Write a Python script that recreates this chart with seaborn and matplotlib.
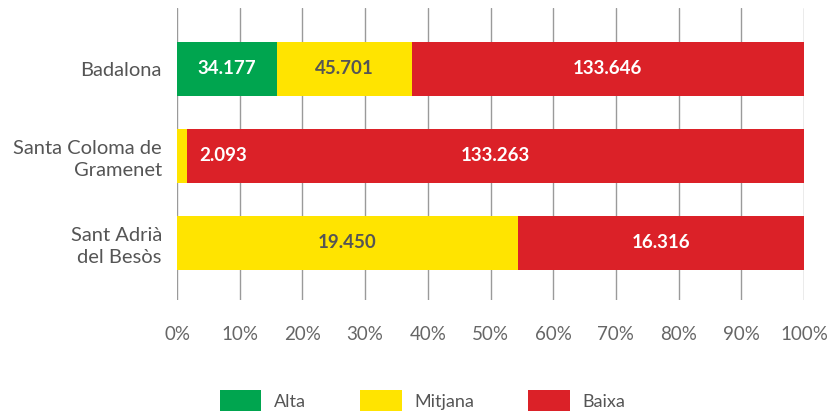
import matplotlib
matplotlib.use("Agg")
import matplotlib.pyplot as plt
import seaborn as sns
import pandas as pd
import numpy as np
from matplotlib.patches import Patch

municipis = ["Badalona", "Santa Coloma de\nGramenet", "Sant Adrià\ndel Besòs"]
alta = [34177, 0, 0]
mitjana = [45701, 2093, 19450]
baixa = [133646, 133263, 16316]
series = ["Alta", "Mitjana", "Baixa"]
colors = {"Alta": "#00a54f", "Mitjana": "#ffe400", "Baixa": "#db2128"}
label_colors = {"Alta": "white", "Mitjana": "#555555", "Baixa": "white"}
tick_labels = [f"{p}%" for p in range(0, 101, 10)]

sns.set_theme(style="white")
plt.rcParams["font.family"] = ["Lato", "DejaVu Sans"]

raw = pd.DataFrame({"municipi": municipis, "Alta": alta, "Mitjana": mitjana, "Baixa": baixa})
total = raw[series].sum(axis=1)
pct = raw[series].div(total, axis=0) * 100
cum = pct.cumsum(axis=1)

fig = plt.figure(figsize=(8.3, 4.16), dpi=100)
ax = fig.add_axes([0.2133, 0.279, 0.7554, 0.702])

# stacked bars: draw cumulative totals back to front
for s in reversed(series):
    d = pd.DataFrame({"municipi": municipis, "v": cum[s].values})
    sns.barplot(data=d, y="municipi", x="v", color=colors[s], orient="h",
                width=0.62, ax=ax, saturation=1, zorder=2, edgecolor="none")

# value labels
for i in range(len(municipis)):
    for s in series:
        v = raw.loc[i, s]
        if v == 0:
            continue
        start = cum.loc[i, s] - pct.loc[i, s]
        end = cum.loc[i, s]
        txt = f"{v:,}".replace(",", ".")
        if pct.loc[i, s] < 5:
            ax.text(end + 2.0, i, txt, ha="left", va="center", color="white",
                    fontsize=13.5, fontweight="bold", zorder=3)
        else:
            ax.text((start + end) / 2, i, txt, ha="center", va="center",
                    color=label_colors[s], fontsize=13.5, fontweight="bold", zorder=3)

ax.set_xlim(0, 100)
ax.set_ylim(2.655, -0.70)
ax.set_xticks(range(0, 101, 10))
ax.set_xticklabels(tick_labels)
ax.set_xlabel("")
ax.set_ylabel("")
ax.grid(axis="x", color="#9a9a9a", linewidth=1, zorder=0)
ax.grid(axis="y", visible=False)
for sp in ax.spines.values():
    sp.set_visible(False)
ax.tick_params(axis="x", length=5, color="#9a9a9a", pad=14, labelsize=13.5, labelcolor="#666666")
ax.tick_params(axis="y", length=0, pad=11, labelsize=14.5, labelcolor="#555555")
for lab in ax.get_yticklabels():
    lab.set_horizontalalignment("right")
    lab.set_multialignment("right")
    lab.set_linespacing(1.35)

handles = [Patch(facecolor=colors[s], edgecolor="none", label=s) for s in series]
fig.legend(handles=handles, loc="lower center", bbox_to_anchor=(0.509, 0.012), ncol=3,
           frameon=False, handlelength=2.3, handleheight=1.4, handletextpad=0.7,
           columnspacing=3.0, fontsize=13, labelcolor="#555555",
           borderpad=0, borderaxespad=0)

fig.savefig("out.png", dpi=100)
